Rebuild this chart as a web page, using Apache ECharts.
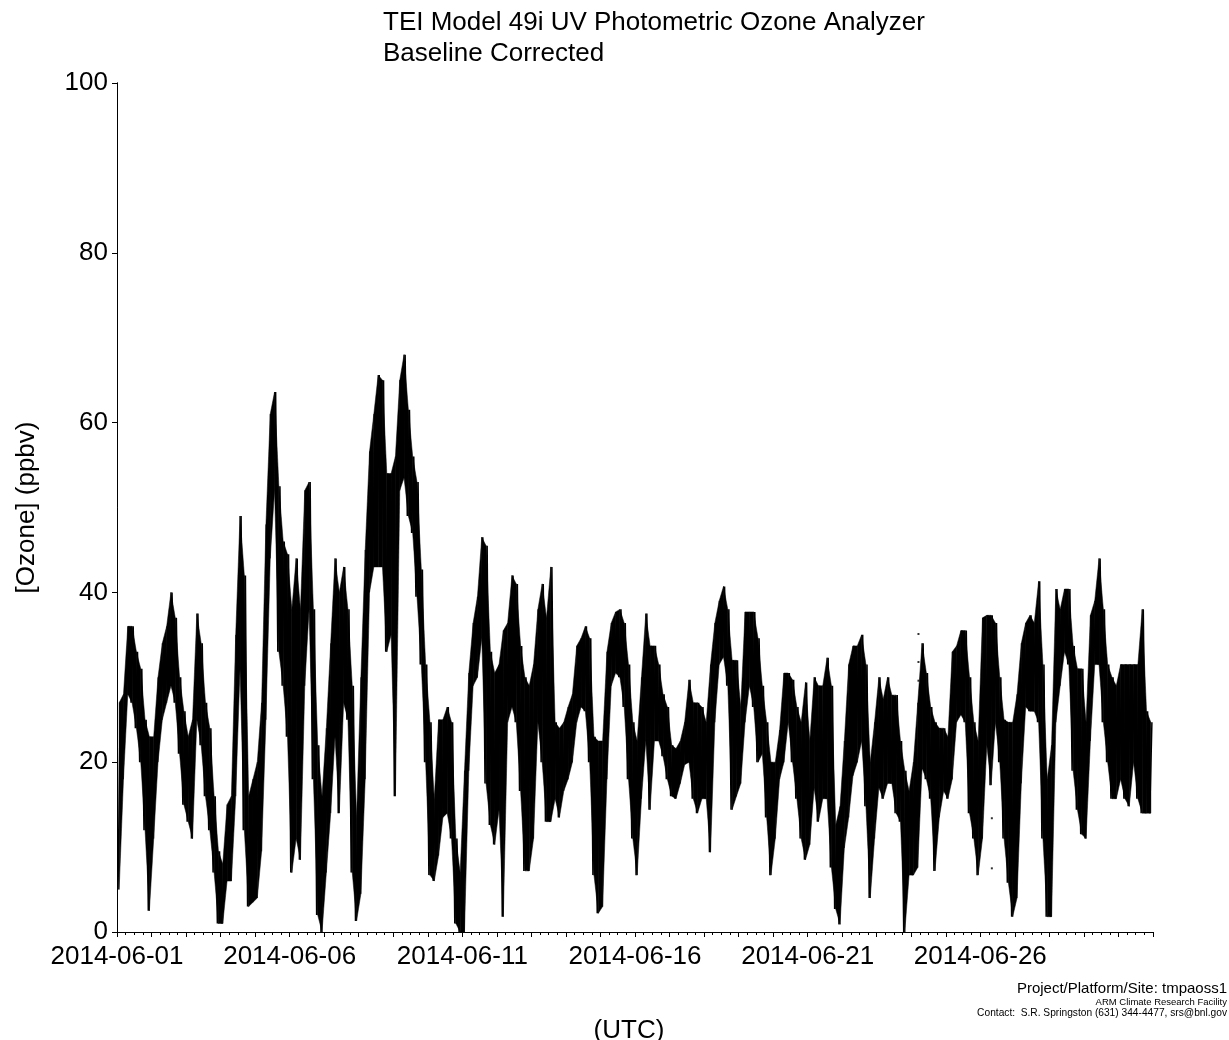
<!DOCTYPE html>
<html>
<head>
<meta charset="utf-8">
<title>TEI Model 49i UV Photometric Ozone Analyzer</title>
<script src="https://cdn.jsdelivr.net/npm/echarts@6/dist/echarts.min.js"></script>
<style>
  html, body { margin: 0; padding: 0; background: #fff; }
  #chart { width: 1229px; height: 1040px; }
</style>
</head>
<body>
<div id="chart"></div>
<script>
// Ozone mixing ratio (ppbv), June 2014, summarised in 3-hour bins:
// for each bin the lower and upper envelope of the 1-minute record.
// One row per day, eight bins per row (00, 03, 06, ... 21 UTC).
const lower = [
  5, 18, 28, 27, 24, 20, 12, 2.5,            // Jun 01
  11, 20, 25, 27, 29, 27, 21, 15,            // Jun 02
  13, 11, 25, 22, 16, 12, 7, 1,              // Jun 03
  1, 6, 6, 16, 31, 12, 3, 3.5,               // Jun 04
  4, 9.5, 25, 44, 52, 33, 29, 23,            // Jun 05
  7, 11, 8.5, 29, 38, 18, 2, 0,              // Jun 06
  7, 14, 23, 14, 27, 25, 7, 1.3,             // Jun 07
  4.5, 18, 40, 43, 43, 43, 33, 35,           // Jun 08
  16, 52, 53.5, 49, 47, 39.5, 31.5, 20,      // Jun 09
  6.7, 6, 9, 13.5, 14, 11, 1, 0,             // Jun 10
  0, 19, 29, 30, 34.6, 17.5, 12.6, 10.3,     // Jun 11
  14.4, 1.8, 24.7, 26.5, 24.7, 16.6, 7.2, 7.2, // Jun 12
  11, 24.7, 20, 13, 13, 15.7, 13.5, 16.6,    // Jun 13
  18, 20, 24.7, 26.5, 26, 20, 6.7, 2.2,      // Jun 14
  3, 18, 29, 30.5, 30, 26.5, 18, 11,         // Jun 15
  6.7, 15.7, 22.5, 14.4, 22.5, 22.5, 20.7, 18, // Jun 16
  16, 15.7, 17.5, 19.7, 20, 15.7, 14, 15.7,  // Jun 17
  15.7, 9.4, 24.7, 31.5, 32.4, 29, 14.4, 16, // Jun 18
  17.5, 24.7, 29, 26.5, 20, 21, 13.5, 6.7,   // Jun 19
  11, 18, 20, 24.7, 20, 15.7, 11, 8.5,       // Jun 20
  10.3, 17, 13, 15.7, 15.7, 7.6, 2.7, 0.9,   // Jun 21
  9.9, 13.5, 18.4, 20, 22.5, 14.8, 4, 11,    // Jun 22
  17, 15.7, 17.5, 17.5, 14, 13, 0, 6.7,      // Jun 23
  6.7, 7.6, 19.3, 18, 15.7, 7.2, 13.5, 16.6, // Jun 24
  15.7, 18, 24.7, 25.6, 24.7, 14, 11, 6.7,   // Jun 25
  11, 22, 17.3, 24.7, 20, 11, 5.8, 1.8,      // Jun 26
  4, 17.5, 26.5, 26, 26, 24.7, 11, 1.8,      // Jun 27
  1.8, 24.7, 29, 33, 31.5, 19, 14.4, 11.5,   // Jun 28
  11, 22.5, 31.5, 31.5, 24.7, 20, 15.7, 15.7, // Jun 29
  18, 15.7, 14.8, 20, 15.7, 14, 14, 14       // Jun 30
];
const upper = [
  27, 28, 36, 36, 33, 31, 25, 23,            // Jun 01
  23, 30, 34, 36, 40, 37, 30, 26,            // Jun 02
  23, 25, 37.5, 34, 27, 24, 16, 9.5,         // Jun 03
  8, 15, 16, 35, 49, 42, 16, 18,             // Jun 04
  20, 27, 48, 61, 63.6, 52.5, 46, 44.5,      // Jun 05
  38, 44, 38, 52, 53, 38, 22, 16,            // Jun 06
  24, 34, 44, 40, 43, 38, 29, 13.5,          // Jun 07
  30, 45, 56.6, 61, 65.6, 65, 54, 54,        // Jun 08
  56, 65, 68, 61.5, 56, 53, 42.7, 31.5,      // Jun 09
  24.7, 15.7, 25, 25, 26.5, 24.7, 11, 7,     // Jun 10
  19, 30.5, 36.4, 39.5, 46.5, 45.5, 33, 30.5, // Jun 11
  31.5, 35.5, 36.4, 42, 41, 33.7, 30, 29,    // Jun 12
  31.5, 38, 41, 37, 43, 24.7, 24, 24.7,      // Jun 13
  26.5, 28, 33.7, 34.6, 36, 34.6, 23, 22.5,  // Jun 14
  22.5, 33, 36.4, 37.7, 38, 36.4, 31.5, 24.7, // Jun 15
  22.5, 30, 37.5, 33.7, 33.7, 31.5, 28, 26.5, // Jun 16
  22, 21.6, 22.5, 24.7, 29.7, 27, 27, 26.5,  // Jun 17
  24.7, 31.5, 36.4, 39, 40.7, 38, 32, 32,    // Jun 18
  26.5, 37.7, 37.7, 37.7, 34.6, 29, 24.7, 20, // Jun 19
  20, 23.8, 30.5, 30.5, 29.7, 26.5, 24.7, 29.4, // Jun 20
  22.5, 30, 29, 29, 32.3, 29, 12.6, 14.8,    // Jun 21
  22.5, 31.5, 33.7, 33.7, 35, 31.5, 20, 24.7, // Jun 22
  30, 27.4, 30, 27.9, 27.9, 22.5, 19, 16.6,  // Jun 23
  20, 27, 34, 30.5, 26.5, 24.7, 24, 24,      // Jun 24
  23, 33, 33.7, 35.5, 35.5, 30, 24.7, 22.5,  // Jun 25
  37, 37.3, 37.3, 36.4, 30, 25, 24.7, 24.7,  // Jun 26
  28, 34, 36.4, 37.3, 36.4, 41.3, 31.5, 18,  // Jun 27
  22, 40.4, 38, 40.4, 40.4, 33.7, 31, 31,    // Jun 28
  24.7, 37.3, 39, 44, 38, 31.5, 30, 29,      // Jun 29
  31.5, 31.5, 31.5, 31.5, 31.5, 38, 26, 24.7 // Jun 30
];
// isolated samples between data gaps (hours since 2014-06-01 00 UTC, ppbv)
const isolatedHours = [557, 557, 557, 608, 608];
const isolatedValues = [35.1, 31.8, 29.6, 13.4, 7.5];

// date labels, one every five days
const dateLabels = ['2014-06-01', '2014-06-06', '2014-06-11', '2014-06-16', '2014-06-21', '2014-06-26'];

const BIN_HOURS = 3;
const FONT = '"Liberation Sans", Arial, Helvetica, sans-serif';

// each bin contributes its low and high sample, giving the dense trace
const trace = [];
for (let i = 0; i < lower.length; i++) {
  trace.push([i * BIN_HOURS + 0.75, lower[i]]);
  trace.push([i * BIN_HOURS + 2.25, upper[i]]);
}
// envelope band: one filled segment from each bin centre to the next
const bandSegments = [];
for (let i = 0; i < lower.length - 1; i++) {
  bandSegments.push([
    i * BIN_HOURS + 1.5, lower[i], upper[i],
    (i + 1) * BIN_HOURS + 1.5, lower[i + 1], upper[i + 1]
  ]);
}
const dots = isolatedHours.map((h, i) => [h, isolatedValues[i]]);

function renderBand(params, api) {
  const p1 = api.coord([api.value(0), api.value(1)]);
  const p2 = api.coord([api.value(0), api.value(2)]);
  const p3 = api.coord([api.value(3), api.value(5)]);
  const p4 = api.coord([api.value(3), api.value(4)]);
  return {
    type: 'polygon',
    shape: { points: [p1, p2, p3, p4] },
    style: { fill: '#000', stroke: '#000', lineWidth: 0.5 }
  };
}

const chart = echarts.init(document.getElementById('chart'), null, { renderer: 'canvas' });
chart.setOption({
  animation: false,
  backgroundColor: '#ffffff',
  title: {
    text: 'TEI Model 49i UV Photometric Ozone Analyzer\nBaseline Corrected',
    left: 383,
    top: 7,
    padding: 0,
    textStyle: { fontFamily: FONT, fontSize: 26, fontWeight: 'normal', color: '#000', lineHeight: 31 }
  },
  grid: { left: 117, right: 76, top: 83, bottom: 108, containLabel: false, outerBoundsMode: 'none' },
  xAxis: [{
    type: 'value',
    min: 0,
    max: 720,
    interval: 24,
    name: '(UTC)',
    nameLocation: 'middle',
    nameGap: 86,
    nameTextStyle: { fontFamily: FONT, fontSize: 26, color: '#000', padding: [0, 12, 0, 0] },
    axisLine: { show: true, onZero: false, lineStyle: { color: '#000', width: 1 } },
    axisTick: { show: true, inside: false, length: 5, lineStyle: { color: '#000', width: 1 } },
    minorTick: { show: true, splitNumber: 4, length: 3, lineStyle: { color: '#000', width: 1 } },
    splitLine: { show: false },
    axisLabel: {
      margin: 12,
      fontFamily: FONT, fontSize: 26, color: '#000',
      showMaxLabel: false,
      formatter: v => (v % 120 === 0 && v / 120 < dateLabels.length) ? dateLabels[v / 120] : ''
    }
  }, {
    // upper frame edge
    type: 'value', position: 'top', min: 0, max: 720,
    axisLine: { show: true, lineStyle: { color: '#000', width: 1 } },
    axisTick: { show: false }, axisLabel: { show: false }, splitLine: { show: false }
  }],
  yAxis: [{
    type: 'value',
    min: 0,
    max: 100,
    interval: 20,
    name: '[Ozone] (ppbv)',
    nameLocation: 'middle',
    nameRotate: 90,
    nameGap: 77,
    nameTextStyle: { fontFamily: FONT, fontSize: 26, color: '#000' },
    axisLine: { show: true, onZero: false, lineStyle: { color: '#000', width: 1 } },
    axisTick: { show: true, inside: false, length: 5, lineStyle: { color: '#000', width: 1 } },
    splitLine: { show: false },
    axisLabel: { margin: 9, fontFamily: FONT, fontSize: 26, color: '#000' }
  }, {
    // right frame edge
    type: 'value', position: 'right', min: 0, max: 100,
    axisLine: { show: true, lineStyle: { color: '#000', width: 1 } },
    axisTick: { show: false }, axisLabel: { show: false }, splitLine: { show: false }
  }],
  series: [{
    type: 'custom',
    data: bandSegments,
    renderItem: renderBand,
    encode: { x: [0, 3], y: [1, 2, 4, 5] },
    clip: true,
    z: 2
  }, {
    type: 'line',
    data: trace,
    symbol: 'none',
    clip: true,
    lineStyle: { color: '#000', width: 1.5 },
    z: 3
  }, {
    type: 'scatter',
    data: dots,
    symbol: 'rect',
    symbolSize: 2,
    itemStyle: { color: '#000' },
    z: 3
  }],
  graphic: [
    { type: 'text', right: 2, top: 981, style: { text: 'Project/Platform/Site: tmpaoss1', font: '15px ' + FONT, fill: '#000' } },
    { type: 'text', right: 2, top: 997, style: { text: 'ARM Climate Research Facility', font: '9.5px ' + FONT, fill: '#000' } },
    { type: 'text', right: 2, top: 1008, style: { text: 'Contact:  S.R. Springston (631) 344-4477, srs@bnl.gov', font: '10.2px ' + FONT, fill: '#000' } }
  ]
});
</script>
</body>
</html>
